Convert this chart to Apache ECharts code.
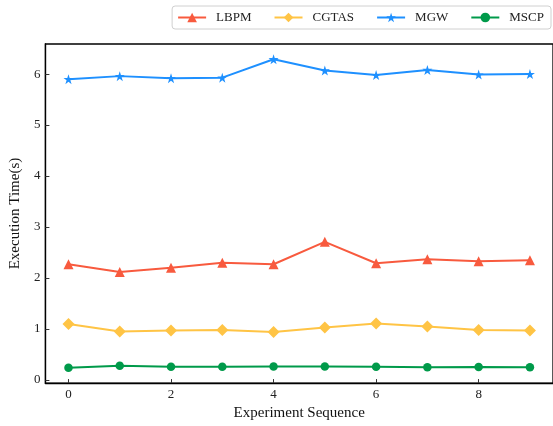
<!DOCTYPE html>
<html>
<head>
<meta charset="utf-8">
<script src="https://cdn.jsdelivr.net/npm/echarts@6/dist/echarts.min.js"></script>
<style>
html,body{margin:0;padding:0;background:#fff;}
#chart{width:553px;height:426px;}
</style>
</head>
<body>
<div id="chart"></div>
<script>
const seriesNames = ['LBPM', 'CGTAS', 'MGW', 'MSCP'];
const experimentIdx = [0, 1, 2, 3, 4, 5, 6, 7, 8, 9];
const lbpm  = [2.27, 2.12, 2.20, 2.30, 2.27, 2.71, 2.29, 2.37, 2.33, 2.35];
const cgtas = [1.10, 0.95, 0.97, 0.98, 0.94, 1.03, 1.11, 1.05, 0.98, 0.97];
const mgw   = [5.90, 5.96, 5.92, 5.93, 6.29, 6.07, 5.98, 6.08, 5.99, 6.00];
const mscp  = [0.24, 0.28, 0.26, 0.26, 0.265, 0.265, 0.26, 0.25, 0.255, 0.25];
const xTicks = [0, 2, 4, 6, 8];
const yTicks = [0, 1, 2, 3, 4, 5, 6];

const FONT = '"Liberation Serif", "DejaVu Serif", serif';
const colors = ['#F85A3E', '#FFC445', '#1E90FF', '#009A4A'];
const starPath = 'path://M50,0 L61.2,34.5 L97.6,34.5 L68.2,55.9 L79.4,90.5 L50,69.1 L20.6,90.5 L31.8,55.9 L2.4,34.5 L38.8,34.5 Z';
const symbols = ['triangle', 'diamond', starPath, 'circle'];
const symbolSizes = [10, 12, 10, 8.5];
const values = [lbpm, cgtas, mgw, mscp];

const chart = echarts.init(document.getElementById('chart'), null, {renderer: 'canvas'});
chart.setOption({
  animation: false,
  backgroundColor: '#fff',
  grid: {left: 42, top: 44, bottom: 41, right: -5, show: true, borderColor: '#000', borderWidth: 1.3, containLabel: false},
  legend: {
    data: seriesNames,
    right: 2, top: 6,
    orient: 'horizontal',
    itemWidth: 28, itemHeight: 12, itemGap: 22,
    padding: [5, 7, 5, 5],
    borderColor: '#d0d0d0', borderWidth: 1, borderRadius: 3,
    textStyle: {fontFamily: FONT, fontSize: 13, color: '#222', padding: [0, 0, 0, 5]}
  },
  xAxis: {
    type: 'value', min: -0.45, max: 9.45,
    name: 'Experiment Sequence', nameLocation: 'middle', nameGap: 20,
    nameTextStyle: {fontFamily: FONT, fontSize: 15, color: '#111'},
    splitLine: {show: false},
    axisLine: {show: true, onZero: false, lineStyle: {color: '#000', width: 1.3}},
    axisTick: {show: true, inside: true, length: 4, customValues: xTicks, lineStyle: {color: '#333'}},
    axisLabel: {customValues: xTicks, margin: 5, fontFamily: FONT, fontSize: 13, color: '#222'}
  },
  yAxis: {
    type: 'value', min: -0.06, max: 6.59,
    name: 'Execution Time(s)', nameLocation: 'middle', nameGap: 19, nameRotate: 90,
    nameTextStyle: {fontFamily: FONT, fontSize: 15, color: '#111'},
    splitLine: {show: false},
    axisLine: {show: true, onZero: false, lineStyle: {color: '#000', width: 1.3}},
    axisTick: {show: true, inside: true, length: 4, customValues: yTicks, lineStyle: {color: '#333'}},
    axisLabel: {customValues: yTicks, margin: 5, fontFamily: FONT, fontSize: 13, color: '#222'}
  },
  series: seriesNames.map((name, k) => ({
    name: name,
    type: 'line',
    data: experimentIdx.map((x, i) => [x, values[k][i]]),
    symbol: symbols[k],
    symbolSize: symbolSizes[k],
    showSymbol: true,
    color: colors[k],
    itemStyle: {color: colors[k]},
    lineStyle: {color: colors[k], width: 2}
  }))
});
</script>
</body>
</html>
